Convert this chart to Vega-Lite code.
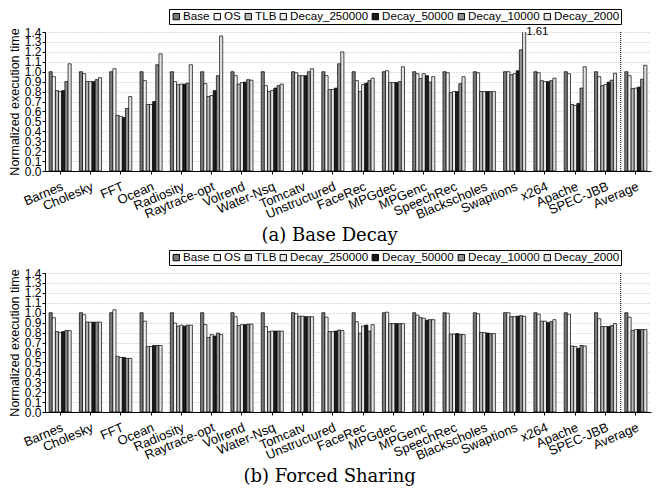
{
  "$schema": "https://vega.github.io/schema/vega-lite/v6.json",
  "padding": {"left": 8, "top": 8, "right": 1, "bottom": 0},
  "datasets": {
    "a": [
      {"b": "Barnes", "Base": 1.0, "OS": 0.95, "TLB": 0.81, "Decay_250000": 0.80, "Decay_50000": 0.81, "Decay_10000": 0.90, "Decay_2000": 1.08},
      {"b": "Cholesky", "Base": 1.0, "OS": 0.98, "TLB": 0.90, "Decay_250000": 0.90, "Decay_50000": 0.90, "Decay_10000": 0.92, "Decay_2000": 0.94},
      {"b": "FFT", "Base": 1.0, "OS": 1.03, "TLB": 0.56, "Decay_250000": 0.55, "Decay_50000": 0.54, "Decay_10000": 0.63, "Decay_2000": 0.75},
      {"b": "Ocean", "Base": 1.0, "OS": 0.91, "TLB": 0.67, "Decay_250000": 0.67, "Decay_50000": 0.70, "Decay_10000": 1.07, "Decay_2000": 1.18},
      {"b": "Radiosity", "Base": 1.0, "OS": 0.90, "TLB": 0.87, "Decay_250000": 0.875, "Decay_50000": 0.875, "Decay_10000": 0.885, "Decay_2000": 1.07},
      {"b": "Raytrace-opt", "Base": 1.0, "OS": 0.88, "TLB": 0.75, "Decay_250000": 0.76, "Decay_50000": 0.81, "Decay_10000": 0.96, "Decay_2000": 1.36},
      {"b": "Volrend", "Base": 1.0, "OS": 0.96, "TLB": 0.875, "Decay_250000": 0.89, "Decay_50000": 0.895, "Decay_10000": 0.92, "Decay_2000": 0.915},
      {"b": "Water-Nsq", "Base": 1.0, "OS": 0.86, "TLB": 0.80, "Decay_250000": 0.81, "Decay_50000": 0.835, "Decay_10000": 0.86, "Decay_2000": 0.875},
      {"b": "Tomcatv", "Base": 1.0, "OS": 0.99, "TLB": 0.96, "Decay_250000": 0.96, "Decay_50000": 0.96, "Decay_10000": 1.0, "Decay_2000": 1.03},
      {"b": "Unstructured", "Base": 1.0, "OS": 0.96, "TLB": 0.82, "Decay_250000": 0.82, "Decay_50000": 0.835, "Decay_10000": 1.08, "Decay_2000": 1.20},
      {"b": "FaceRec", "Base": 1.0, "OS": 0.91, "TLB": 0.80, "Decay_250000": 0.87, "Decay_50000": 0.885, "Decay_10000": 0.91, "Decay_2000": 0.935},
      {"b": "MPGdec", "Base": 1.0, "OS": 1.01, "TLB": 0.89, "Decay_250000": 0.89, "Decay_50000": 0.89, "Decay_10000": 0.90, "Decay_2000": 1.05},
      {"b": "MPGenc", "Base": 1.0, "OS": 0.98, "TLB": 0.93, "Decay_250000": 0.98, "Decay_50000": 0.96, "Decay_10000": 0.895, "Decay_2000": 0.95},
      {"b": "SpeechRec", "Base": 1.0, "OS": 0.99, "TLB": 0.79, "Decay_250000": 0.80, "Decay_50000": 0.80, "Decay_10000": 0.88, "Decay_2000": 0.95},
      {"b": "Blackscholes", "Base": 1.0, "OS": 0.99, "TLB": 0.80, "Decay_250000": 0.80, "Decay_50000": 0.80, "Decay_10000": 0.80, "Decay_2000": 0.80},
      {"b": "Swaptions", "Base": 1.0, "OS": 1.0, "TLB": 0.97, "Decay_250000": 0.98, "Decay_50000": 1.01, "Decay_10000": 1.22, "Decay_2000": 1.61},
      {"b": "x264", "Base": 1.0, "OS": 0.99, "TLB": 0.91, "Decay_250000": 0.90, "Decay_50000": 0.90, "Decay_10000": 0.91, "Decay_2000": 0.935},
      {"b": "Apache", "Base": 1.0, "OS": 0.98, "TLB": 0.67, "Decay_250000": 0.66, "Decay_50000": 0.68, "Decay_10000": 0.835, "Decay_2000": 1.05},
      {"b": "SPEC-JBB", "Base": 1.0, "OS": 0.95, "TLB": 0.86, "Decay_250000": 0.87, "Decay_50000": 0.895, "Decay_10000": 0.915, "Decay_2000": 0.985},
      {"b": "Average", "Base": 1.0, "OS": 0.96, "TLB": 0.83, "Decay_250000": 0.835, "Decay_50000": 0.845, "Decay_10000": 0.925, "Decay_2000": 1.065}
    ],
    "b": [
      {"b": "Barnes", "Base": 1.0, "OS": 0.95, "TLB": 0.81, "Decay_250000": 0.80, "Decay_50000": 0.81, "Decay_10000": 0.82, "Decay_2000": 0.82},
      {"b": "Cholesky", "Base": 1.0, "OS": 0.98, "TLB": 0.905, "Decay_250000": 0.905, "Decay_50000": 0.905, "Decay_10000": 0.905, "Decay_2000": 0.905},
      {"b": "FFT", "Base": 1.0, "OS": 1.03, "TLB": 0.56, "Decay_250000": 0.55, "Decay_50000": 0.55, "Decay_10000": 0.54, "Decay_2000": 0.54},
      {"b": "Ocean", "Base": 1.0, "OS": 0.915, "TLB": 0.66, "Decay_250000": 0.66, "Decay_50000": 0.67, "Decay_10000": 0.67, "Decay_2000": 0.67},
      {"b": "Radiosity", "Base": 1.0, "OS": 0.895, "TLB": 0.865, "Decay_250000": 0.875, "Decay_50000": 0.865, "Decay_10000": 0.875, "Decay_2000": 0.875},
      {"b": "Raytrace-opt", "Base": 1.0, "OS": 0.88, "TLB": 0.75, "Decay_250000": 0.78, "Decay_50000": 0.765, "Decay_10000": 0.795, "Decay_2000": 0.78},
      {"b": "Volrend", "Base": 1.0, "OS": 0.96, "TLB": 0.87, "Decay_250000": 0.88, "Decay_50000": 0.88, "Decay_10000": 0.885, "Decay_2000": 0.885},
      {"b": "Water-Nsq", "Base": 1.0, "OS": 0.86, "TLB": 0.81, "Decay_250000": 0.815, "Decay_50000": 0.815, "Decay_10000": 0.815, "Decay_2000": 0.815},
      {"b": "Tomcatv", "Base": 1.0, "OS": 0.99, "TLB": 0.965, "Decay_250000": 0.965, "Decay_50000": 0.96, "Decay_10000": 0.96, "Decay_2000": 0.96},
      {"b": "Unstructured", "Base": 1.0, "OS": 0.955, "TLB": 0.81, "Decay_250000": 0.81, "Decay_50000": 0.815, "Decay_10000": 0.825, "Decay_2000": 0.82},
      {"b": "FaceRec", "Base": 1.0, "OS": 0.91, "TLB": 0.795, "Decay_250000": 0.865, "Decay_50000": 0.875, "Decay_10000": 0.815, "Decay_2000": 0.88},
      {"b": "MPGdec", "Base": 1.0, "OS": 1.005, "TLB": 0.89, "Decay_250000": 0.89, "Decay_50000": 0.89, "Decay_10000": 0.89, "Decay_2000": 0.89},
      {"b": "MPGenc", "Base": 1.0, "OS": 0.975, "TLB": 0.95, "Decay_250000": 0.945, "Decay_50000": 0.925, "Decay_10000": 0.93, "Decay_2000": 0.93},
      {"b": "SpeechRec", "Base": 1.0, "OS": 0.995, "TLB": 0.785, "Decay_250000": 0.785, "Decay_50000": 0.79, "Decay_10000": 0.78, "Decay_2000": 0.78},
      {"b": "Blackscholes", "Base": 1.0, "OS": 0.99, "TLB": 0.80, "Decay_250000": 0.80, "Decay_50000": 0.795, "Decay_10000": 0.79, "Decay_2000": 0.79},
      {"b": "Swaptions", "Base": 1.0, "OS": 1.0, "TLB": 0.96, "Decay_250000": 0.96, "Decay_50000": 0.965, "Decay_10000": 0.97, "Decay_2000": 0.965},
      {"b": "x264", "Base": 1.0, "OS": 0.985, "TLB": 0.915, "Decay_250000": 0.915, "Decay_50000": 0.90, "Decay_10000": 0.91, "Decay_2000": 0.93},
      {"b": "Apache", "Base": 1.0, "OS": 0.985, "TLB": 0.665, "Decay_250000": 0.66, "Decay_50000": 0.64, "Decay_10000": 0.67, "Decay_2000": 0.665},
      {"b": "SPEC-JBB", "Base": 1.0, "OS": 0.94, "TLB": 0.86, "Decay_250000": 0.86, "Decay_50000": 0.86, "Decay_10000": 0.87, "Decay_2000": 0.89},
      {"b": "Average", "Base": 1.0, "OS": 0.955, "TLB": 0.82, "Decay_250000": 0.83, "Decay_50000": 0.83, "Decay_10000": 0.83, "Decay_2000": 0.83}
    ]
  },
  "config": {
    "font": "Liberation Sans",
    "view": {"stroke": null},
    "concat": {"spacing": 4},
    "axis": {"domainColor": "#000", "tickColor": "#000", "labelColor": "#000", "titleColor": "#000", "labelFont": "Liberation Sans", "titleFont": "Liberation Sans"},
    "axisY": {"labelFontSize": 12, "labelPadding": 1, "tickSize": 3, "labelOverlap": false, "titleFontSize": 12.5, "titleFontWeight": "normal", "titlePadding": 3, "gridColor": "#aaa", "gridDash": [1, 2], "gridWidth": 0.8, "grid": true},
    "axisX": {"labelFontSize": 13, "labelAngle": -23, "labelAlign": "right", "labelBaseline": "top", "tickSize": 3, "labelPadding": 6, "grid": false, "labelOverlap": false},
    "legend": {"orient": "none", "legendX": 124, "legendY": -23, "direction": "horizontal", "title": null, "symbolType": "square", "symbolSize": 40, "symbolStrokeColor": "#000", "symbolStrokeWidth": 1, "symbolOpacity": 1, "labelFontSize": 11.6, "labelFont": "Liberation Sans", "labelColor": "#000", "columnPadding": 1, "labelOffset": 1, "strokeColor": "#000", "fillColor": "#fff", "padding": 1.5}
  },
  "resolve": {"legend": {"fill": "independent"}},
  "vconcat": [
    {
      "width": 606,
      "height": 139,
      "title": {"text": "(a)  Base Decay", "orient": "bottom", "frame": "bounds", "anchor": "middle", "font": "DejaVu Serif", "fontSize": 18, "fontWeight": "normal", "color": "#000", "offset": 5},
      "data": {"name": "a"},
      "layer": [
        {
          "transform": [{"fold": ["Base", "OS", "TLB", "Decay_250000", "Decay_50000", "Decay_10000", "Decay_2000"], "as": ["s", "v"]}],
          "mark": {"type": "bar", "stroke": "#000", "strokeWidth": 0.7, "clip": true},
          "encoding": {
            "x": {"field": "b", "type": "nominal", "title": null, "scale": {"domain": ["Barnes", "Cholesky", "FFT", "Ocean", "Radiosity", "Raytrace-opt", "Volrend", "Water-Nsq", "Tomcatv", "Unstructured", "FaceRec", "MPGdec", "MPGenc", "SpeechRec", "Blackscholes", "Swaptions", "x264", "Apache", "SPEC-JBB", "Average"], "paddingInner": 0.27, "paddingOuter": 0.135}},
            "xOffset": {"field": "s", "type": "nominal", "scale": {"domain": ["Base", "OS", "TLB", "Decay_250000", "Decay_50000", "Decay_10000", "Decay_2000"], "paddingInner": 0, "paddingOuter": 0}},
            "y": {"field": "v", "type": "quantitative", "scale": {"domain": [0, 1.4], "nice": false}, "axis": {"title": "Normalized execution time", "values": [0, 0.1, 0.2, 0.3, 0.4, 0.5, 0.6, 0.7, 0.8, 0.9, 1.0, 1.1, 1.2, 1.3, 1.4], "format": ".1f", "grid": true}},
            "fill": {"field": "s", "type": "nominal", "scale": {"domain": ["Base", "OS", "TLB", "Decay_250000", "Decay_50000", "Decay_10000", "Decay_2000"], "range": ["#7a7a7a", "#f4f4f4", "#b8b8b8", "#e6e6e6", "#1c1c1c", "#8f8f8f", "#e2e2e2"]}}
          }
        },
        {
          "data": {"values": [{}]},
          "mark": {"type": "rule", "color": "#000", "strokeWidth": 1, "strokeDash": [1, 1], "xOffset": -4.1},
          "encoding": {"x": {"datum": "Average", "bandPosition": 0}}
        },
        {
          "transform": [{"fold": ["Decay_2000"], "as": ["s", "v"]}, {"filter": "datum.v > 1.4"}],
          "mark": {"type": "text", "align": "left", "baseline": "middle", "dx": 2, "fontSize": 11.5, "color": "#000"},
          "encoding": {
            "x": {"field": "b", "type": "nominal"},
            "xOffset": {"field": "s", "type": "nominal"},
            "y": {"datum": 1.4, "type": "quantitative", "axis": {"title": "Normalized execution time", "values": [0, 0.1, 0.2, 0.3, 0.4, 0.5, 0.6, 0.7, 0.8, 0.9, 1.0, 1.1, 1.2, 1.3, 1.4], "format": ".1f", "grid": true}},
            "text": {"field": "v", "type": "quantitative", "format": ".2f"}
          }
        }
      ]
    },
    {
      "width": 606,
      "height": 139,
      "title": {"text": "(b)  Forced Sharing", "orient": "bottom", "frame": "bounds", "anchor": "middle", "font": "DejaVu Serif", "fontSize": 18, "fontWeight": "normal", "color": "#000", "offset": 5},
      "data": {"name": "b"},
      "layer": [
        {
          "transform": [{"fold": ["Base", "OS", "TLB", "Decay_250000", "Decay_50000", "Decay_10000", "Decay_2000"], "as": ["s", "v"]}],
          "mark": {"type": "bar", "stroke": "#000", "strokeWidth": 0.7, "clip": true},
          "encoding": {
            "x": {"field": "b", "type": "nominal", "title": null, "scale": {"domain": ["Barnes", "Cholesky", "FFT", "Ocean", "Radiosity", "Raytrace-opt", "Volrend", "Water-Nsq", "Tomcatv", "Unstructured", "FaceRec", "MPGdec", "MPGenc", "SpeechRec", "Blackscholes", "Swaptions", "x264", "Apache", "SPEC-JBB", "Average"], "paddingInner": 0.27, "paddingOuter": 0.135}},
            "xOffset": {"field": "s", "type": "nominal", "scale": {"domain": ["Base", "OS", "TLB", "Decay_250000", "Decay_50000", "Decay_10000", "Decay_2000"], "paddingInner": 0, "paddingOuter": 0}},
            "y": {"field": "v", "type": "quantitative", "scale": {"domain": [0, 1.4], "nice": false}, "axis": {"title": "Normalized execution time", "values": [0, 0.1, 0.2, 0.3, 0.4, 0.5, 0.6, 0.7, 0.8, 0.9, 1.0, 1.1, 1.2, 1.3, 1.4], "format": ".1f", "grid": true}},
            "fill": {"field": "s", "type": "nominal", "scale": {"domain": ["Base", "OS", "TLB", "Decay_250000", "Decay_50000", "Decay_10000", "Decay_2000"], "range": ["#7a7a7a", "#f4f4f4", "#b8b8b8", "#e6e6e6", "#1c1c1c", "#8f8f8f", "#e2e2e2"]}}
          }
        },
        {
          "data": {"values": [{}]},
          "mark": {"type": "rule", "color": "#000", "strokeWidth": 1, "strokeDash": [1, 1], "xOffset": -4.1},
          "encoding": {"x": {"datum": "Average", "bandPosition": 0}}
        }
      ]
    }
  ]
}
